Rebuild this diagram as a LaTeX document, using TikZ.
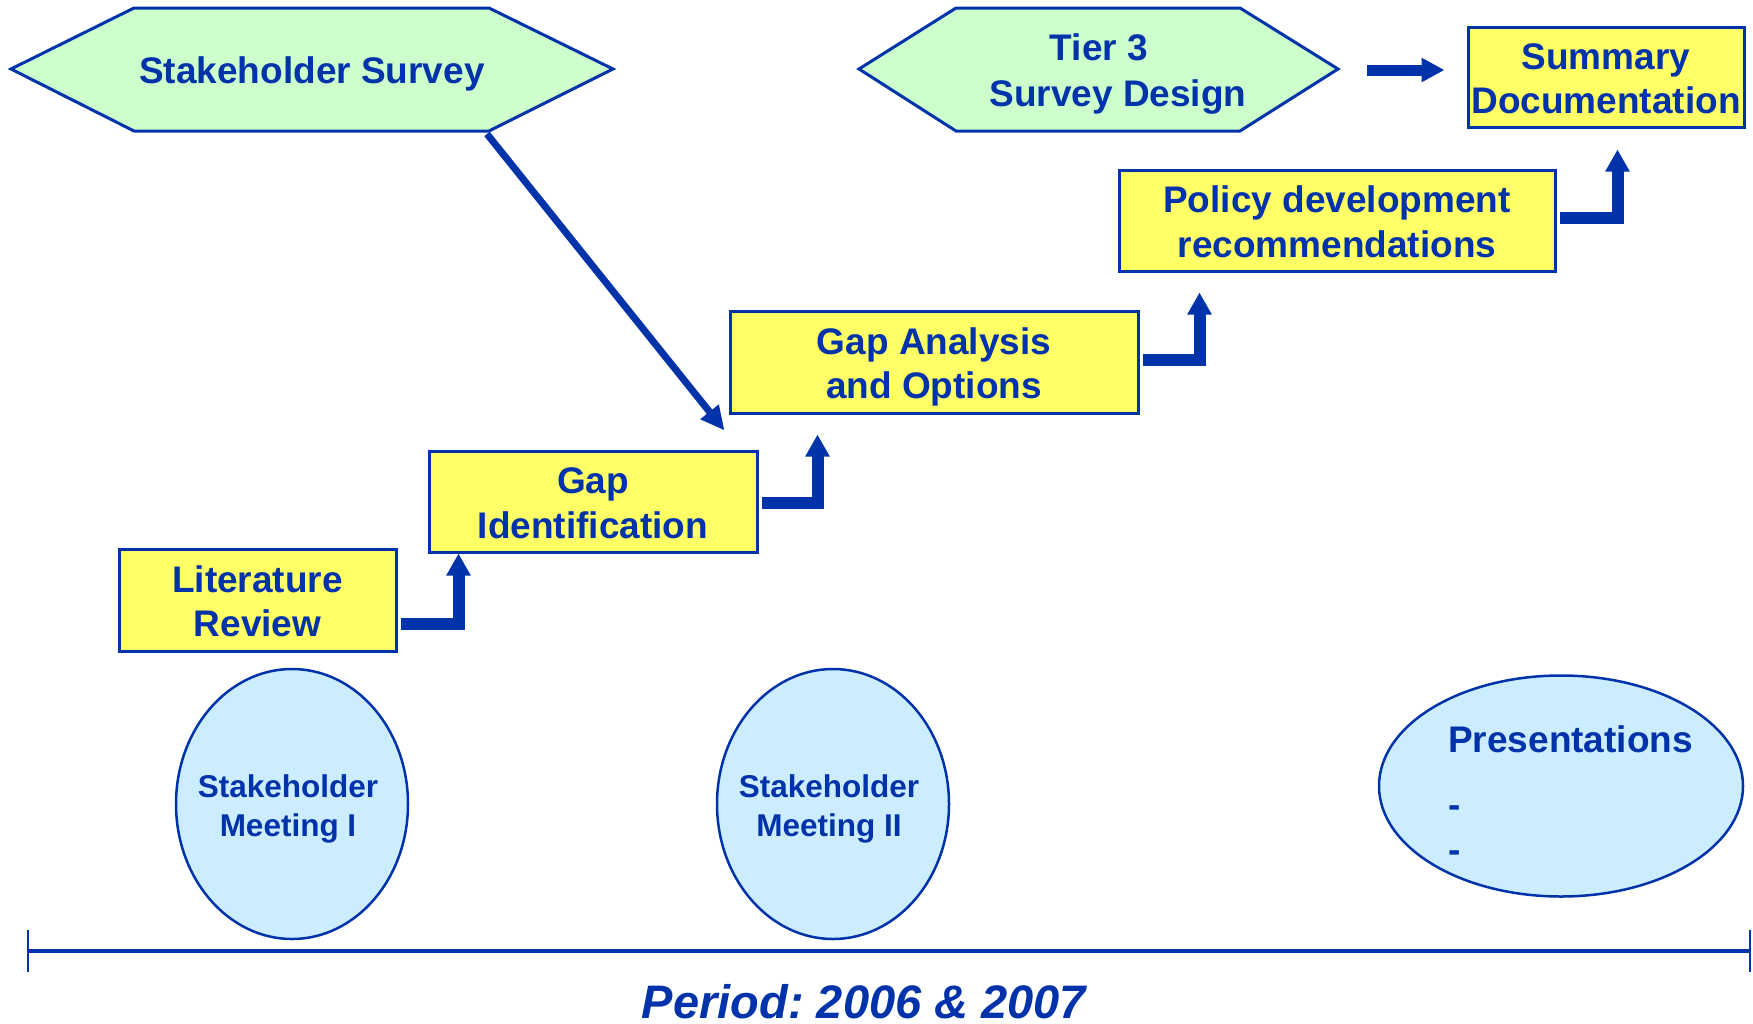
\documentclass[tikz,border=0pt]{standalone}
\usepackage{fontspec}
\setmainfont{Liberation Sans}
\usetikzlibrary{arrows.meta,shapes.geometric,calc}
\definecolor{dblue}{RGB}{0,51,170}
\definecolor{lyellow}{RGB}{255,255,102}
\definecolor{lgreen}{RGB}{204,255,204}
\definecolor{lblue}{RGB}{204,236,255}
\newcommand\boxtop{\rule{0pt}{37pt}}
\newcommand\boxbot{\rule[-8pt]{0pt}{8pt}}
\frenchspacing
\begin{document}
\begin{tikzpicture}[x=1pt,y=-1pt,
  stepbox/.style={draw=dblue, line width=3pt, fill=lyellow, inner sep=0pt, align=center, text=dblue, font=\fontsize{37}{44.5}\selectfont\bfseries},
  hexa/.style={draw=dblue, line width=3pt, fill=lgreen, line join=miter},
  hextext/.style={text=dblue, align=center, inner sep=0pt, font=\fontsize{37}{46}\selectfont\bfseries},
  meet/.style={ellipse, draw=dblue, line width=2.5pt, fill=lblue, inner sep=0pt},
  meettext/.style={text=dblue, align=center, inner sep=0pt, font=\fontsize{31.5}{39}\selectfont\bfseries},
  prestext/.style={text=dblue, inner sep=0pt, anchor=base west, font=\fontsize{37}{44}\selectfont\bfseries},
  elbow/.style={draw=dblue, line width=12pt, line join=miter, -{Triangle[width=23pt,length=22pt]}},
  diag/.style={draw=dblue, line width=7pt, -{Triangle[width=22pt,length=24pt]}},
  harrow/.style={draw=dblue, line width=11pt, -{Triangle[width=23pt,length=23pt]}},
  axis/.style={draw=dblue, line width=3.5pt},
  tick/.style={draw=dblue, line width=2pt}
]
\useasboundingbox[fill=white] (0,0) rectangle (1753,1023);

% hexagons
\draw[hexa] (11,69) -- (134,8) -- (489,8) -- (613,69) -- (489,131) -- (134,131) -- cycle;
\coordinate (ssC) at (487,134);
\node[hextext, anchor=base] (ss) at (312,83.5) {Stakeholder Survey};

\draw[hexa] (859,69) -- (956,8) -- (1240,8) -- (1338,69) -- (1240,131) -- (956,131) -- cycle;
\coordinate (t3E) at (1338,70);
\node[hextext] (t3) at (1118,74.5) {Tier 3\hspace*{38pt}\\Survey Design};

% boxes
\node[stepbox, minimum width=277pt, minimum height=102pt] (lit) at (257.5,600) {\boxtop Literature\\Review\boxbot};
\node[stepbox, minimum width=328pt, minimum height=101pt] (gapid) at (593,501.5) {\boxtop Gap\\Identification\boxbot};
\node[stepbox, minimum width=408pt, minimum height=102pt] (gapan) at (934,362) {\boxtop Gap Analysis\\and Options\boxbot};
\node[stepbox, minimum width=436pt, minimum height=101pt] (policy) at (1337,220.5) {\boxtop Policy development\\recommendations\boxbot};
\node[stepbox, minimum width=276pt, minimum height=100pt] (summ) at (1606,77) {\boxtop Summary\\Documentation\boxbot};

% arrows
\draw[elbow] ([xshift=3pt,yshift=-24pt]lit.east) -| ([xshift=31pt]gapid.south west);
\draw[elbow] ([xshift=3pt,yshift=-1.5pt]gapid.east) -| ([xshift=89pt,yshift=-20pt]gapan.south west);
\draw[elbow] ([xshift=3pt,yshift=2pt]gapan.east) -| ([xshift=82pt,yshift=-20pt]policy.south west);
\draw[elbow] ([xshift=3pt,yshift=2.5pt]policy.east) -| ([xshift=151pt,yshift=-21pt]summ.south west);
\draw[diag] (ssC) -- ([xshift=-4pt,yshift=-16pt]gapan.south west);
\draw[harrow] ([xshift=29pt]t3E) -- ([xshift=-22pt]summ.west |- t3E);

% meetings
\node[meet, minimum width=232pt, minimum height=270pt] (m1) at (292,804) {};
\node[meettext] (m1t) at (288,808.5) {Stakeholder\\Meeting I};
\node[meet, minimum width=232pt, minimum height=270pt] (m2) at (833,804) {};
\node[meettext] (m2t) at (829,808.5) {Stakeholder\\Meeting II};
\node[meet, minimum width=364pt, minimum height=221pt] (pres) at (1561,786) {};
\node[prestext] (prt) at (1448,752) {Presentations};
\node[prestext] (pd1) at (1448,817) {-};
\node[prestext] (pd2) at (1448,862) {-};

% timeline
\coordinate (tl) at (28,951);
\coordinate (tr) at (1750,951);
\draw[axis] (tl) -- (tr);
\draw[tick] ([yshift=21pt]tl) -- ([yshift=-21pt]tl);
\draw[tick] ([yshift=21pt]tr) -- ([yshift=-21pt]tr);
\node[text=dblue, anchor=base, inner sep=0pt, font=\fontsize{47}{56}\selectfont\bfseries\itshape] (period) at (864,1018) {Period: 2006 \& 2007};
\end{tikzpicture}
\end{document}
